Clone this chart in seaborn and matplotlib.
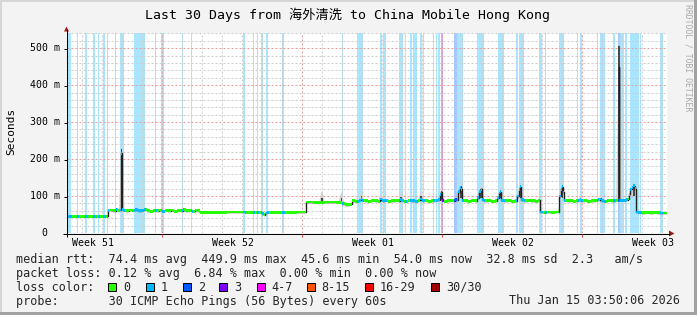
import numpy as np
import matplotlib
matplotlib.use("Agg")
import matplotlib.pyplot as plt
from matplotlib.patches import Rectangle, Polygon
from matplotlib.lines import Line2D
import seaborn as sns

# ---------------- data ----------------
t_days = [
    0.00, 2.06, 2.08, 2.20, 2.35, 2.50, 2.60, 2.70, 2.74, 2.78, 2.85,
    3.00, 3.15, 3.30, 3.45, 3.60, 3.75, 3.90,
    4.05, 4.20, 4.35, 4.50, 4.65, 4.80, 4.95,
    5.10, 5.25, 5.40, 5.55, 5.70, 5.85,
    6.00, 6.15, 6.30, 6.45, 6.60,
    6.68, 7.50, 8.50, 9.30, 9.70, 9.80, 9.88, 9.95, 10.05, 11.00, 11.95,
    11.98, 12.60, 13.20, 13.72, 13.76, 14.00, 14.20,
    14.30, 14.50, 14.65, 14.72, 14.80, 14.95,
    15.10, 15.30, 15.50, 15.62, 15.70, 15.78, 15.95,
    16.10, 16.30, 16.50, 16.62, 16.70, 16.78, 16.95,
    17.10, 17.30, 17.50, 17.62, 17.70, 17.78, 17.95,
    18.10, 18.30, 18.50, 18.60, 18.68, 18.74, 18.80, 18.90,
    19.05, 19.20, 19.35, 19.48, 19.58, 19.68, 19.74, 19.80, 19.95,
    20.10, 20.30, 20.45, 20.55, 20.65, 20.72, 20.78, 20.95,
    21.10, 21.30, 21.45, 21.55, 21.62, 21.68, 21.76, 21.90,
    22.10, 22.30, 22.45, 22.55, 22.63, 22.68, 22.76, 22.90,
    23.10, 23.30, 23.50, 23.63,
    23.67, 23.90, 24.10, 24.30, 24.50, 24.58, 24.65, 24.72, 24.76, 24.84, 24.90,
    25.05, 25.20, 25.35, 25.50, 25.62, 25.68, 25.75, 25.90,
    26.10, 26.30, 26.50, 26.62, 26.68, 26.75, 26.90,
    27.10, 27.30, 27.50, 27.57, 27.60, 27.63, 27.70, 27.85,
    28.00, 28.05, 28.12, 28.20, 28.28, 28.35, 28.42, 28.46,
    28.60, 28.80, 29.00, 29.20, 29.40, 29.60, 29.80, 30.00,
]
median_ms = [
    45.6, 45.6, 61, 62, 60, 63, 61, 62, 216, 64, 61,
    60, 62, 61, 63, 60, 61, 64,
    60, 59, 61, 60, 62, 59, 61,
    60, 62, 59, 61, 60, 63,
    60, 61, 59, 62, 60,
    56.5, 56.5, 57, 56.5, 56, 52, 50, 54, 56.5, 56.5, 57,
    84, 83.5, 84, 83.5, 79, 77, 78,
    87, 86, 88, 93, 88, 87,
    86, 88, 87, 86, 92, 87, 88,
    86, 87, 88, 87, 91, 87, 86,
    88, 87, 86, 88, 92, 87, 88,
    86, 87, 88, 90, 104, 110, 89, 86,
    87, 88, 87, 90, 112, 124, 118, 89, 87,
    86, 88, 87, 96, 112, 118, 90, 87,
    88, 86, 87, 95, 108, 112, 89, 87,
    88, 86, 87, 100, 118, 125, 90, 87,
    88, 87, 86, 88,
    57, 56, 57, 56, 57, 58, 100, 118, 125, 110, 88,
    87, 88, 86, 87, 89, 90, 87, 88,
    86, 87, 88, 90, 92, 87, 86,
    88, 87, 88, 88, 450, 90, 89, 88,
    90, 92, 105, 118, 122, 128, 120, 57,
    56, 55, 56, 55, 56, 55, 54, 54,
]

# packet-loss periods (days from left edge) and their loss level index
band_start = [0.03, 0.52, 0.92, 1.32, 1.54, 1.79, 2.02, 2.42, 2.67, 3.37, 3.87, 4.42,
              4.72, 5.74, 6.22, 8.79, 9.29, 9.49, 9.72, 9.97, 10.74, 13.74, 14.52,
              15.67, 15.82, 16.62, 16.92, 17.17, 17.32, 17.67, 17.79, 18.32, 18.47,
              18.57, 18.69, 19.37, 19.52, 20.52, 21.57, 22.47, 22.62, 23.62, 23.89,
              24.62, 25.49, 25.67, 26.49, 26.64, 27.32, 27.54, 27.67, 27.92, 28.17,
              28.64, 29.67]
band_end = [0.18, 0.57, 0.99, 1.39, 1.59, 1.92, 2.07, 2.47, 2.84, 3.84, 3.92, 4.47,
            4.84, 5.82, 6.27, 8.92, 9.34, 9.54, 9.82, 10.07, 10.87, 13.82, 14.82,
            15.74, 15.94, 16.79, 16.97, 17.24, 17.49, 17.74, 17.87, 18.37, 18.52,
            18.67, 18.79, 19.49, 19.82, 20.87, 21.87, 22.54, 22.87, 23.74, 23.97,
            24.87, 25.57, 25.74, 26.57, 26.92, 27.42, 27.64, 27.84, 27.99, 28.59,
            28.72, 29.79]
band_loss = [1, 1, 1, 1, 1, 1, 1, 1, 1, 1, 1, 1,
             1, 1, 1, 1, 1, 1, 1, 1, 1, 1, 1,
             1, 1, 1, 1, 1, 1, 1, 1, 1, 1,
             1, 3, 2, 1, 1, 1, 1, 1, 1, 1,
             1, 1, 1, 1, 1, 1, 2, 1, 1, 1,
             1, 1]

# smoke (ping spread) peaks: position, top of light smoke, top of dark core, base
smoke_t = [2.74, 3.75, 5.75, 12.75, 13.72, 14.72, 15.70, 16.70, 17.70, 18.72,
           19.70, 20.70, 21.68, 22.68, 24.76, 25.68, 26.70, 27.60, 28.35]
smoke_hi = [240, 70, 68, 116, 112, 112, 105, 108, 112, 122,
            138, 130, 125, 136, 145, 100, 106, 505, 142]
smoke_core = [228, 66, 65, 96, 95, 100, 95, 97, 100, 112,
              126, 120, 114, 124, 130, 93, 96, 505, 132]
smoke_base = [62, 61, 61, 84, 84, 88, 87, 87, 87, 90,
              95, 95, 95, 95, 95, 88, 88, 90, 100]

y_tick_values = [0, 100, 200, 300, 400, 500]
y_tick_labels = ["0", "100 m", "200 m", "300 m", "400 m", "500 m"]
week_labels = ["Week 51", "Week 52", "Week 01", "Week 02", "Week 03"]
week_label_days = [1.28, 8.28, 15.28, 22.28, 29.28]
first_midnight_day = 0.77

loss_names = ["0", "1", "2", "3", "4-7", "8-15", "16-29", "30/30"]
loss_colors = ["#26ff00", "#00b8ff", "#0059ff", "#7e00ff",
               "#ff00ff", "#ff5500", "#ff0000", "#a10000"]

title = "Last 30 Days from 海外清洗 to China Mobile Hong Kong"
line_median = "median rtt:  74.4 ms avg  449.9 ms max  45.6 ms min  54.0 ms now  32.8 ms sd  2.3   am/s"
line_loss = "packet loss: 0.12 % avg  6.84 % max  0.00 % min  0.00 % now"
line_color = "loss color:"
line_probe = "probe:       30 ICMP Echo Pings (56 Bytes) every 60s"
timestamp = "Thu Jan 15 03:50:06 2026"
y_title = "Seconds"
credit = "RRDTOOL / TOBI OETIKER"

# ---------------- layout ----------------
W, H, DPI = 697, 315, 100
X0, X1, YTOP, YBOT = 67, 667, 33, 233
YMAX = 541
PX = 0.72  # one pixel in points


def fx(px):
    return px / W


def fy(py):
    return 1 - py / H


sns.set_theme(style="white")
plt.rcParams["font.family"] = ["DejaVu Sans Mono", "Noto Sans CJK SC"]

fig = plt.figure(figsize=(W / DPI, H / DPI), dpi=DPI)
fig.patch.set_facecolor("#f3f3f3")
ax = fig.add_axes([fx(X0), fy(YBOT), (X1 - X0) / W, (YBOT - YTOP) / H])
ax.set_xlim(0, 30)
ax.set_ylim(0, YMAX)
ax.set_facecolor("white")
for sp in ax.spines.values():
    sp.set_visible(False)
ax.set_xticks([])
ax.set_yticks([])
ax.grid(False)

# loss background bands
for s, e, l in zip(band_start, band_end, band_loss):
    ax.axvspan(s, e, facecolor=loss_colors[l], alpha=0.34, lw=0, zorder=1)

# grid
dash = (0, (2.0, 2.0))
for v in range(20, YMAX, 20):
    major = v % 100 == 0
    ax.axhline(v, color="#e59c9c" if major else "#cccccc", lw=PX, ls=dash, zorder=2)
day_lines = [first_midnight_day + i for i in range(30) if first_midnight_day + i < 30]
for i, d in enumerate(day_lines):
    major = (i - 4) % 7 == 0
    ax.axvline(d, color="#e59c9c" if major else "#cccccc", lw=PX, ls=dash, zorder=2)

# smoke
for tc, hi, core, base in zip(smoke_t, smoke_hi, smoke_core, smoke_base):
    w = 0.14
    ax.add_patch(Polygon([(tc - w, base), (tc - w * 0.3, hi - (hi - base) * 0.25), (tc, hi),
                          (tc + w * 0.3, hi - (hi - base) * 0.25), (tc + w, base)],
                         closed=True, facecolor="#d2d2d2", lw=0, zorder=3))
    ax.add_patch(Rectangle((tc - 0.035, base), 0.07, core - base,
                           facecolor="#4a4a4a", lw=0, zorder=3.1))

# median line (dark outline) and loss-coloured median band
sns.lineplot(x=t_days, y=median_ms, ax=ax, color="#202020", lw=1.0,
             drawstyle="steps-mid", estimator=None, sort=False, zorder=4)
tt = np.asarray(t_days, dtype=float)
mm = np.asarray(median_ms, dtype=float)
HB = 3.8
ax.fill_between(tt, mm - HB, mm + HB, step="mid", facecolor=loss_colors[0],
                lw=0, zorder=5)
for s, e, l in zip(band_start, band_end, band_loss):
    coll = ax.fill_between(tt, mm - HB, mm + HB, step="mid",
                           facecolor=loss_colors[l], lw=0, zorder=6)
    coll.set_clip_path(Rectangle((s, 0), e - s, YMAX, transform=ax.transData))


# ---------------- axes decorations in pixel space ----------------
def fline(x0, y0, x1, y1, color, lw=1.0):
    fig.add_artist(Line2D([fx(x0), fx(x1)], [fy(y0), fy(y1)],
                          transform=fig.transFigure, color=color,
                          lw=lw * PX, solid_capstyle="butt"))


fline(66.5, 30, 66.5, 237, "#000000")
fline(62.5, 233.5, 670, 233.5, "#000000")
fig.add_artist(Polygon([(fx(64.0), fy(31.5)), (fx(69.0), fy(31.5)), (fx(66.5), fy(26.5))],
                       closed=True, transform=fig.transFigure,
                       facecolor="#9c1c1c", lw=0))
fig.add_artist(Polygon([(fx(669.0), fy(230.5)), (fx(669.0), fy(236.5)), (fx(674.5), fy(233.5))],
                       closed=True, transform=fig.transFigure,
                       facecolor="#9c1c1c", lw=0))

ppm = (YBOT - YTOP) / YMAX
for v, lab in zip(y_tick_values, y_tick_labels):
    py = YBOT - v * ppm
    fline(63.5, py + 0.5, 66.5, py + 0.5, "#000000")
    xr = 59.5 if " " in lab else 59.5 - 2 * 5.9
    fig.text(fx(xr), fy(py), lab, ha="right", va="center", fontsize=7.1, color="#000000")

for i, d in enumerate(day_lines):
    if (i - 4) % 7 == 0:
        px = X0 + d * (X1 - X0) / 30
        fline(px, 234, px, 237, "#e05050")

for lab, d in zip(week_labels, week_label_days):
    px = X0 + d * (X1 - X0) / 30
    fig.text(fx(px), fy(243.3), lab, ha="center", va="center", fontsize=7.1, color="#000000")

fig.text(fx(10.8), fy(131.5), y_title, rotation=90, ha="center", va="center",
         fontsize=8.0, color="#000000")
fig.text(fx(347.5), fy(15.0), title, ha="center", va="center", fontsize=9.5, color="#000000")
fig.text(fx(688.0), fy(4.5), credit, rotation=270, ha="center", va="top",
         fontsize=5.9, color="#a8a8a8")

# legend block
LEG = 8.5
fig.text(fx(16), fy(259.3), line_median, ha="left", va="center", fontsize=LEG)
fig.text(fx(16), fy(273.3), line_loss, ha="left", va="center", fontsize=LEG)
fig.text(fx(16), fy(287.3), line_color, ha="left", va="center", fontsize=LEG)
box_px = [108.3, 145.7, 182.7, 219.3, 256.7, 306.7, 365.0, 430.7]
for bx, name, col in zip(box_px, loss_names, loss_colors):
    fig.add_artist(Rectangle((fx(bx), fy(290.5)), 8 / W, 8 / H, transform=fig.transFigure,
                             facecolor=col, edgecolor="#000000", lw=PX))
    fig.text(fx(bx + 15), fy(287.3), name, ha="left", va="center", fontsize=LEG)
fig.text(fx(16), fy(301.0), line_probe, ha="left", va="center", fontsize=LEG)
fig.text(fx(680), fy(301.0), timestamp, ha="right", va="center", fontsize=LEG)

# 3D frame
fig.add_artist(Rectangle((0, fy(2)), 1, 2 / H, transform=fig.transFigure, facecolor="#d6d6d6", lw=0))
fig.add_artist(Rectangle((0, 0), 2 / W, 1, transform=fig.transFigure, facecolor="#d6d6d6", lw=0))
fig.add_artist(Rectangle((0, 0), 1, 3 / H, transform=fig.transFigure, facecolor="#a2a2a2", lw=0))
fig.add_artist(Rectangle((fx(694), 0), 3 / W, 1, transform=fig.transFigure, facecolor="#a2a2a2", lw=0))

fig.savefig("out.png", dpi=DPI, facecolor=fig.get_facecolor())
